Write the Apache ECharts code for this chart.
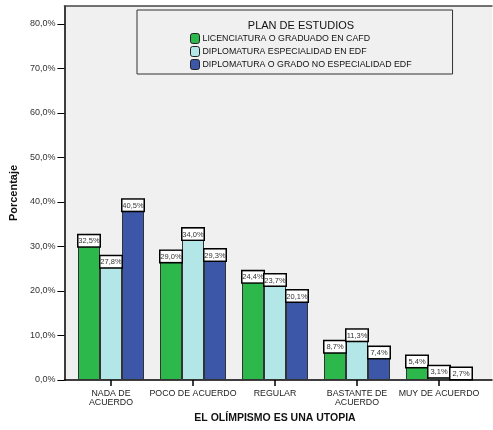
<!DOCTYPE html>
<html><head><meta charset="utf-8">
<script src="https://cdn.jsdelivr.net/npm/echarts@6/dist/echarts.min.js"></script>
<style>html,body{margin:0;padding:0;background:#fff}#c{width:493px;height:430px}</style>
</head><body><div id="c"></div>
<script>
const categories = ['NADA DE\nACUERDO', 'POCO DE ACUERDO', 'REGULAR', 'BASTANTE DE\nACUERDO', 'MUY DE ACUERDO'];
const seriesNames = ['LICENCIATURA O GRADUADO EN CAFD', 'DIPLOMATURA ESPECIALIDAD EN EDF', 'DIPLOMATURA O GRADO NO ESPECIALIDAD EDF'];
const licenciatura = [32.5, 29.0, 24.4, 8.7, 5.4];
const diplomaturaEdf = [27.8, 34.0, 23.7, 11.3, 3.1];
const diplomaturaNoEdf = [40.5, 29.3, 20.1, 7.4, 2.7];
const colors = ['#2db84b', '#b3e6e6', '#3c56a8'];
const yMax = 84;

const font = '"Liberation Sans", Arial, sans-serif';
const fmt = v => v.toFixed(1).replace('.', ',') + '%';

const chart = echarts.init(document.getElementById('c'), null, {renderer: 'canvas'});
const mk = (name, data, i) => ({
  name, type: 'bar', data, xAxisIndex: 2, yAxisIndex: 1,
  barWidth: 22, barGap: '0%',
  itemStyle: {color: colors[i], borderColor: '#333', borderWidth: 1},
  label: {
    show: true, position: 'insideTop', distance: 0,
    formatter: p => fmt(p.value),
    fontFamily: font, fontSize: 7.5, color: '#333',
    backgroundColor: '#fff', borderColor: '#000', borderWidth: 1.5,
    padding: [2, 1, 1, 1], width: 19, align: 'center'
  }
});
chart.setOption({
  animation: false,
  textStyle: {fontFamily: font},
  title: {
    text: 'PLAN DE ESTUDIOS', left: 296, top: 15, textAlign: 'center',
    textStyle: {fontFamily: font, fontSize: 11, fontWeight: 'normal', color: '#111'}
  },
  legend: {
    data: seriesNames, orient: 'vertical', left: 137, top: 10,
    padding: [23, 41, 4, 53], itemGap: 2, itemWidth: 9, itemHeight: 10,
    backgroundColor: '#f0f0f0', borderColor: '#333', borderWidth: 1,
    textStyle: {fontFamily: font, fontSize: 8.8, color: '#111', padding: [0, 0, 0, -2]},
    itemStyle: {borderColor: '#222', borderWidth: 1}
  },
  grid: [
    {left: 55, right: 1, top: 6, bottom: 50, show: true, backgroundColor: '#f0f0f0', borderWidth: 0},
    {left: 70, width: 410, top: 6, bottom: 50}
  ],
  xAxis: [
    {type: 'category', gridIndex: 0, data: categories, position: 'bottom',
     axisLine: {lineStyle: {color: '#000', width: 1.5}}, axisTick: {show: false}, axisLabel: {show: false}},
    {type: 'category', gridIndex: 0, data: [], position: 'top',
     axisLine: {lineStyle: {color: '#444', width: 1.5}}, axisTick: {show: false}, axisLabel: {show: false}},
    {type: 'category', gridIndex: 1, data: categories,
     name: 'EL OLÍMPISMO ES UNA UTOPIA', nameLocation: 'middle', nameGap: 33,
     nameTextStyle: {fontFamily: font, fontSize: 10.5, fontWeight: 'bold', color: '#111'},
     axisLine: {show: false},
     axisTick: {show: true, alignWithLabel: true, length: 6, lineStyle: {color: '#000', width: 1.5}},
     axisLabel: {fontFamily: font, fontSize: 8.8, color: '#222', lineHeight: 9, margin: 9, interval: 0}}
  ],
  yAxis: [
    {type: 'value', gridIndex: 0, min: 0, max: yMax, interval: 10,
     name: 'Porcentaje', nameLocation: 'middle', nameGap: 38,
     nameTextStyle: {fontFamily: font, fontSize: 11, fontWeight: 'bold', color: '#111'},
     axisLine: {show: true, lineStyle: {color: '#000', width: 1.5}},
     axisTick: {show: true, length: 7, lineStyle: {color: '#000'}},
     axisLabel: {fontFamily: font, fontSize: 9, color: '#333', margin: 9, showMaxLabel: false,
       formatter: v => (v % 10 === 0 ? fmt(v) : '')},
     splitLine: {show: false}},
    {type: 'value', gridIndex: 1, min: 0, max: yMax, show: false, splitLine: {show: false}}
  ],
  series: [
    mk(seriesNames[0], licenciatura, 0),
    mk(seriesNames[1], diplomaturaEdf, 1),
    mk(seriesNames[2], diplomaturaNoEdf, 2)
  ]
});
</script></body></html>
